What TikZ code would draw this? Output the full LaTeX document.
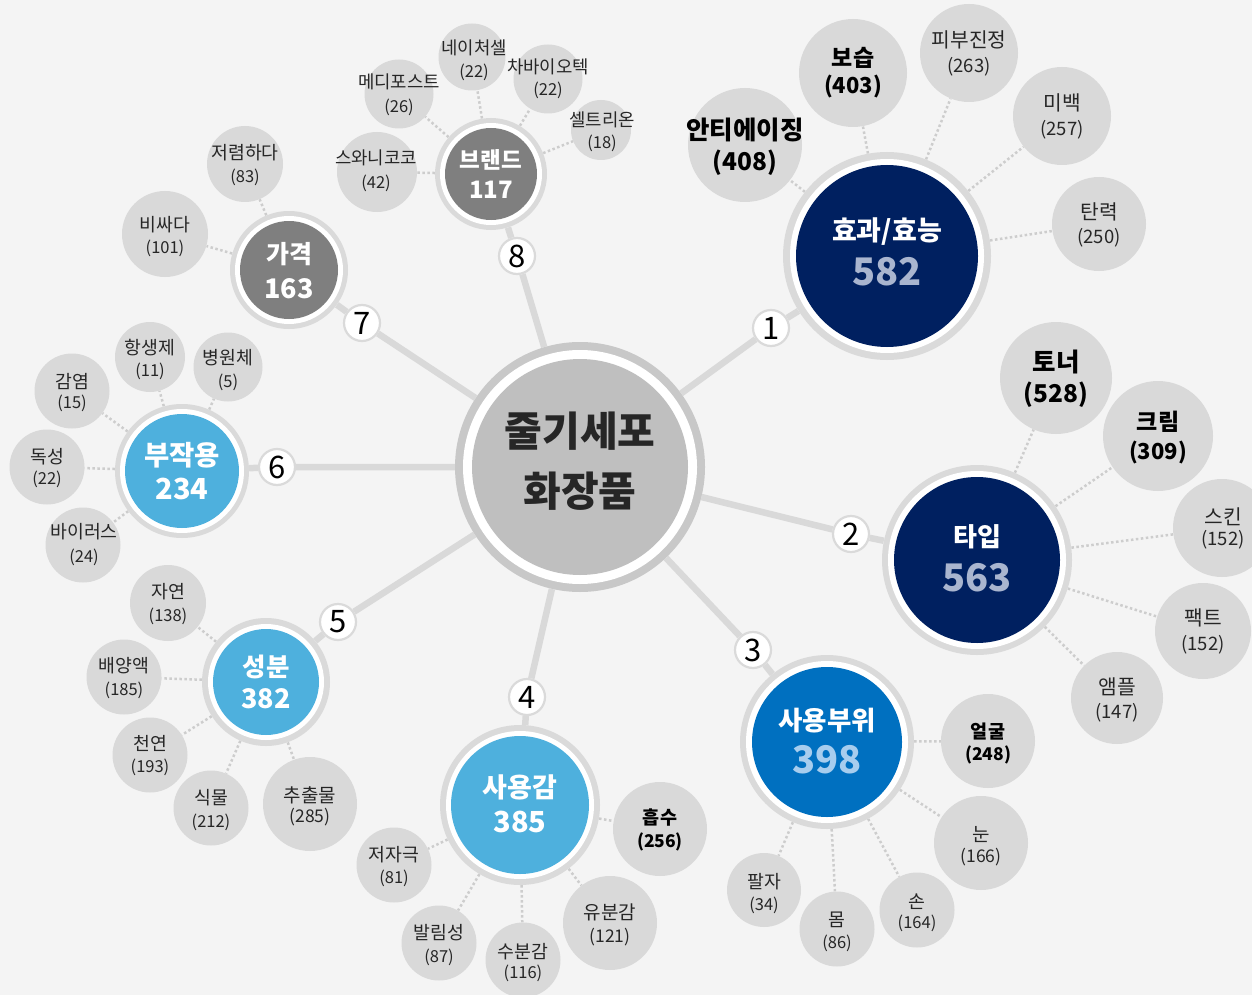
\documentclass[tikz,border=0pt]{standalone}
\usepackage{fontspec}
\setmainfont{Noto Sans CJK KR}
\pgfdeclarelayer{bg}
\pgfdeclarelayer{lines}
\pgfdeclarelayer{front}
\pgfsetlayers{bg,lines,main,front}
\definecolor{bgc}{HTML}{F4F4F4}
\definecolor{leafgray}{HTML}{D9D9D9}
\definecolor{ringc}{HTML}{DADADA}
\definecolor{hubring}{HTML}{C8C8C8}
\definecolor{hubfill}{HTML}{BFBFBF}
\definecolor{navy}{HTML}{002060}
\definecolor{navynum}{HTML}{A9B5CF}
\definecolor{midblue}{HTML}{0070C0}
\definecolor{midnum}{HTML}{A7CDEE}
\definecolor{skyblue}{HTML}{4EB0DD}
\definecolor{catgray}{HTML}{7F7F7F}
\definecolor{txt}{HTML}{262626}
\definecolor{conn}{HTML}{D9D9D9}
\definecolor{dotc}{HTML}{CDCDCD}
\newcommand{\fsz}[1]{\fontsize{#1}{#1}\selectfont}
% name, x, y, rf, rw, ro, colour
\newcommand{\catcirc}[7]{%
  \node[circle, inner sep=0, fill=ringc, minimum size={2*#6pt}] (#1) at (#2,#3) {};
  \fill[white] (#1.center) circle (#5pt);
  \fill[#7] (#1.center) circle (#4pt);
}
% name, x, y, r, textx, labely, numy, label, num
\newcommand{\leafnode}[9]{%
  \node[leafc, minimum size={2*#4pt}] (#1) at (#2,#3) {};
  \begin{pgfonlayer}{front}
  \node[lt] (#1a) at (#5,#6) {#8};
  \node[nt] (#1b) at (#5,#7) {#9};
  \end{pgfonlayer}
}
\begin{document}
\begin{tikzpicture}[x=1pt,y=-1pt,
  leafc/.style={circle, inner sep=0, fill=leafgray},
  conline/.style={draw=conn, line width=6.5pt},
  dotline/.style={draw=dotc, line width=2.5pt, dash pattern=on 2.5pt off 2.5pt},
  numc/.style={circle, inner sep=0, minimum size=36pt, fill=white, draw=ringc, line width=2.2pt, font=\fsz{31}, text=black},
  cl/.style={inner sep=0, text=white, font=\bfseries\fsz{27}},
  cn/.style={inner sep=0, font=\bfseries\fsz{38}},
  lt/.style={inner sep=0, text=txt, font=\fsz{18.3}},
  nt/.style={inner sep=0, text=txt, font=\fsz{16.5}},
  hubt/.style={inner sep=0, text=txt, font=\bfseries\fsz{41}}
]
\useasboundingbox (0,0) rectangle (1252,995);
\begin{pgfonlayer}{bg}
\fill[bgc] (0,0) rectangle (1252,995);
\end{pgfonlayer}

% hub
\node[circle, inner sep=0, fill=hubring, minimum size=250pt] (hub) at (580,467) {};
\fill[white] (hub.center) circle (117pt);
\fill[hubfill] (hub.center) circle (108pt);
\node[hubt] (hubA) at (580,431) {줄기세포};
\node[hubt] (hubB) at (580,491) {화장품};

% categories
\catcirc{k1}{887}{256}{91}{97}{104}{navy}
\node[cl] (k1a) at (887,232) {효과/효능};
\node[cn, text=navynum] (k1b) at (887,272) {582};

\catcirc{k2}{977}{560}{83}{89}{95}{navy}
\node[cl, font=\bfseries\fsz{26}] (k2a) at (977,537) {타입};
\node[cn, text=navynum] (k2b) at (977,578) {563};

\catcirc{k3}{827}{742}{75}{81}{87}{midblue}
\node[cl, font=\bfseries\fsz{26.5}] (k3a) at (827,721) {사용부위};
\node[cn, text=midnum] (k3b) at (827,760) {398};

\catcirc{k4}{520}{805}{69}{74}{80}{skyblue}
\node[cl] (k4a) at (520,787) {사용감};
\node[cn, text=white, font=\bfseries\fsz{29}] (k4b) at (520,822) {385};

\catcirc{k5}{266}{682}{53}{58}{64}{skyblue}
\node[cl, font=\bfseries\fsz{25.5}] (k5a) at (266,667) {성분};
\node[cn, text=white, font=\bfseries\fsz{27}] (k5b) at (266,699) {382};

\catcirc{k6}{182}{471}{57}{62}{67}{skyblue}
\node[cl, font=\bfseries\fsz{27.5}] (k6a) at (182,455) {부작용};
\node[cn, text=white, font=\bfseries\fsz{29}] (k6b) at (182,489) {234};

\catcirc{k7}{289}{270}{49}{54}{59}{catgray}
\node[cl, font=\bfseries\fsz{25}] (k7a) at (289,254) {가격};
\node[cn, text=white, font=\bfseries\fsz{27}] (k7b) at (289,289) {163};

\catcirc{k8}{491}{174}{46}{51}{56}{catgray}
\node[cl, font=\bfseries\fsz{22.5}] (k8a) at (491,160) {브랜드};
\node[cn, text=white, font=\bfseries\fsz{24}] (k8b) at (491,190) {117};

% number markers
\node[numc] (n1) at (771,328) {1};
\node[numc] (n2) at (851,534) {2};
\node[numc] (n3) at (753,650) {3};
\node[numc] (n4) at (527,697) {4};
\node[numc] (n5) at (338,622) {5};
\node[numc] (n6) at (277,467) {6};
\node[numc] (n7) at (362,323) {7};
\node[numc] (n8) at (517,256) {8};

% efficacy and type leaves
\begin{scope}[lt/.style={inner sep=0, text=txt, font=\fsz{20.3}}, nt/.style={inner sep=0, text=txt, font=\fsz{18.5}}]
\begin{scope}[lt/.style={inner sep=0, text=black, font=\bfseries\fsz{25.5}}, nt/.style={inner sep=0, text=black, font=\bfseries\fsz{24.5}}]
\leafnode{e1}{745}{145}{57}{745}{130}{163}{안티에이징}{(408)}
\leafnode{t1}{1056}{378}{56}{1056}{362}{395}{토너}{(528)}
\end{scope}
\begin{scope}[lt/.style={inner sep=0, text=black, font=\bfseries\fsz{23}}, nt/.style={inner sep=0, text=black, font=\bfseries\fsz{22}}]
\leafnode{e2}{853}{73}{54}{853}{58}{87}{보습}{(403)}
\leafnode{t2}{1158}{436}{55}{1158}{422}{453}{크림}{(309)}
\end{scope}
\leafnode{e3}{969}{53}{49}{969}{40}{67}{피부진정}{(263)}
\leafnode{e4}{1062}{116}{49}{1062}{103}{130}{미백}{(257)}
\leafnode{e5}{1099}{224}{47}{1099}{212}{238}{탄력}{(250)}
\leafnode{t3}{1222}{528}{49}{1223}{517}{540}{스킨}{(152)}
\leafnode{t4}{1203}{631}{48}{1203}{618}{645}{팩트}{(152)}
\leafnode{t5}{1117}{698}{46}{1117}{687}{713}{앰플}{(147)}
\end{scope}

\begin{scope}[lt/.style={inner sep=0, text=black, font=\bfseries\fsz{18.5}}, nt/.style={inner sep=0, text=black, font=\bfseries\fsz{17.5}}]
\leafnode{u1}{988}{741}{47}{988}{732}{755}{얼굴}{(248)}
\leafnode{g1}{660}{829}{47}{660}{818}{842}{흡수}{(256)}
\end{scope}
\begin{scope}[lt/.style={inner sep=0, text=txt, font=\fsz{19}}, nt/.style={inner sep=0, text=txt, font=\fsz{17.5}}]
\leafnode{u2}{981}{843}{47}{981}{835}{857}{눈}{(166)}
\leafnode{g2}{610}{923}{47}{610}{912}{937}{유분감}{(121)}
\leafnode{s5}{310}{804}{47}{310}{795}{817}{추출물}{(285)}
\end{scope}
\leafnode{u3}{917}{910}{37.5}{917}{902}{923}{손}{(164)}
\leafnode{u4}{837}{929}{37.5}{837}{920}{943}{몸}{(86)}
\leafnode{u5}{764}{890}{37}{764}{882}{905}{팔자}{(34)}
\leafnode{g3}{523}{960}{37.5}{523}{952}{973}{수분감}{(116)}
\leafnode{g4}{439}{943}{37.5}{439}{933}{957}{발림성}{(87)}
\leafnode{g5}{394}{865}{37.5}{394}{855}{878}{저자극}{(81)}
\leafnode{s1}{168}{603}{38}{168}{592}{616}{자연}{(138)}
\leafnode{s2}{124}{677}{37.5}{124}{666}{690}{배양액}{(185)}
\leafnode{s3}{150}{755}{37.5}{150}{743}{767}{천연}{(193)}
\leafnode{s4}{211}{808}{37.5}{211}{798}{822}{식물}{(212)}
\leafnode{b1}{72}{391}{37.5}{72}{382}{403}{감염}{(15)}
\leafnode{b2}{150}{357}{35}{150}{348}{371}{항생제}{(11)}
\leafnode{b3}{228}{367}{34.5}{228}{358}{382}{병원체}{(5)}
\leafnode{b4}{47}{467}{37.5}{47}{457}{479}{독성}{(22)}
\leafnode{b5}{83}{545}{37.5}{84}{532}{557}{바이러스}{(24)}
\leafnode{p1}{245}{164}{38}{245}{153}{177}{저렴하다}{(83)}
\leafnode{p2}{165}{234}{43}{165}{225}{248}{비싸다}{(101)}
\begin{scope}[lt/.style={inner sep=0, text=txt, font=\fsz{17.8}}, nt/.style={inner sep=0, text=txt, font=\fsz{16.5}}]
\leafnode{r1}{399}{94}{34.5}{399}{82}{107}{메디포스트}{(26)}
\leafnode{r2}{472}{57}{33.5}{474}{48}{72}{네이처셀}{(22)}
\leafnode{r3}{548}{79}{34.5}{548}{67}{90}{차바이오텍}{(22)}
\leafnode{r4}{601}{130}{30}{602}{120}{143}{셀트리온}{(18)}
\leafnode{r5}{377}{172}{40}{376}{158}{183}{스와니코코}{(42)}
\end{scope}

% connectors
\begin{pgfonlayer}{lines}
\draw[conline] (hub) -- (n1) -- (k1);
\draw[conline] (hub) -- (n2) -- (k2);
\draw[conline] (hub) -- (n3) -- (k3);
\draw[conline] (hub) -- (n4) -- (k4);
\draw[conline] (hub) -- (n5) -- (k5);
\draw[conline] (hub) -- (n6) -- (k6);
\draw[conline] (hub) -- (n7) -- (k7);
\draw[conline] (hub) -- (n8) -- (k8);
\foreach \k/\p in {k1/e,k2/t,k3/u,k4/g,k5/s,k6/b,k8/r}
  \foreach \i in {1,...,5}
    \draw[dotline] (\k) -- (\p\i);
\draw[dotline] (k7) -- (p1);
\draw[dotline] (k7) -- (p2);
\end{pgfonlayer}
\end{tikzpicture}
\end{document}
